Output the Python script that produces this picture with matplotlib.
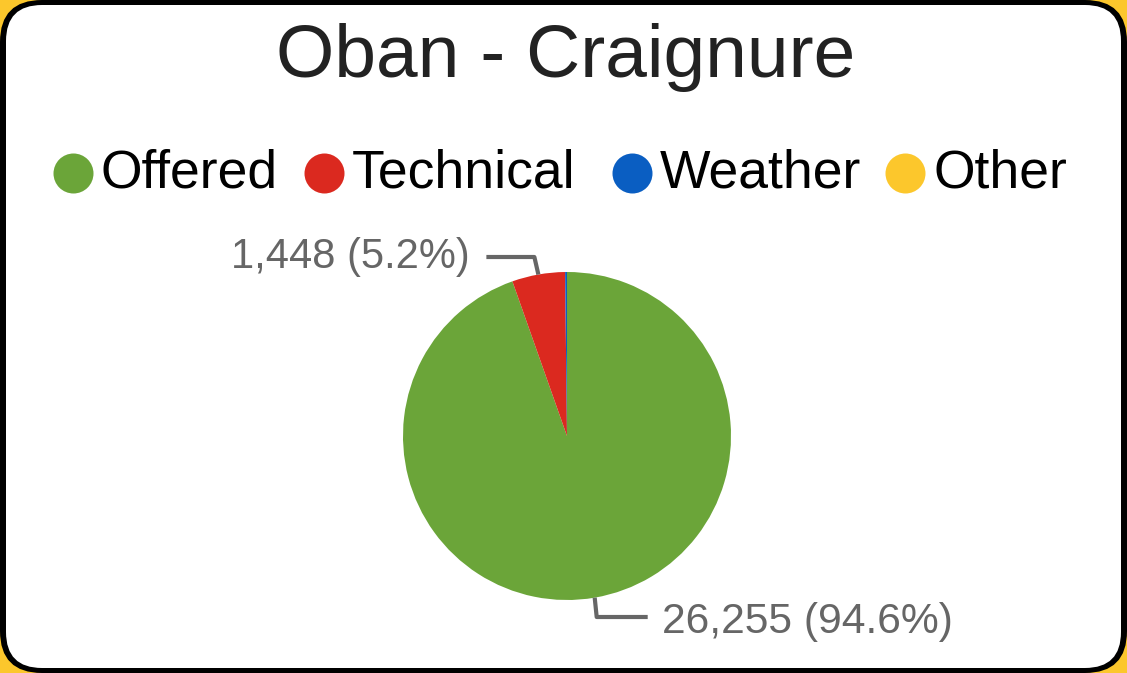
import numpy as np
import matplotlib
matplotlib.use("Agg")
import matplotlib.pyplot as plt
from matplotlib.patches import FancyBboxPatch

plt.rcParams['font.family'] = ['Liberation Sans', 'DejaVu Sans']

title = "Oban - Craignure"
categories = ["Offered", "Technical", "Weather", "Other"]
values = [26255, 1448, 51, 0]
colors = ["#6ba539", "#db291f", "#0a5ec2", "#fcc72c"]

W, H = 1127, 673
fig = plt.figure(figsize=(W / 100, H / 100), dpi=100)
fig.patch.set_facecolor("#fcc72c")

ax = fig.add_axes([0, 0, 1, 1])

# pie
cx, cy, r = 567, H - 436, 164
wedges, _ = ax.pie(values, colors=colors, startangle=90, counterclock=False,
                   center=(cx, cy), radius=r, wedgeprops=dict(linewidth=0), frame=False)
for w in wedges:
    w.set_zorder(2)

ax.set_xlim(0, W)
ax.set_ylim(0, H)
ax.set_aspect("equal")
ax.axis("off")

# card frame: black rounded border with white rounded panel
ax.add_patch(FancyBboxPatch((0, 0), W, H, boxstyle="round,pad=0,rounding_size=42",
                            fc="black", ec="none", zorder=0))
ax.add_patch(FancyBboxPatch((6, 5), W - 12, H - 10, boxstyle="round,pad=0,rounding_size=36",
                            fc="white", ec="none", zorder=1))

ax.text(W / 2 + 2, H - 77, title, ha="center", va="baseline", fontsize=54, color="#222222", zorder=3)

# legend
leg_x = [72.5, 324, 632, 905]
leg_y = H - 173
for x, c, lab in zip(leg_x, colors, categories):
    ax.scatter([x], [leg_y], s=28.8 ** 2, color=c, zorder=3, linewidths=0)
    ax.text(x + 28, H - 187, lab, ha="left", va="baseline", fontsize=38.5, color="black", zorder=3)

total = sum(values)
grey = "#666666"


def label_text(v):
    return f"{v:,} ({v / total * 100:.1f}%)"


def edge_point(w):
    mid = np.deg2rad((w.theta1 + w.theta2) / 2)
    return cx + r * np.cos(mid), cy + r * np.sin(mid)


# Technical label (upper left)
ex, ey = edge_point(wedges[1])
px, py = ex - 4, H - 257
ax.plot([ex, px, px - 48], [ey, py, py], color=grey, lw=3, solid_capstyle="butt", zorder=3)
ax.text(px - 65, H - 268, label_text(values[1]), ha="right", va="baseline", fontsize=30, color=grey, zorder=3)

# Offered label (lower right)
ex, ey = edge_point(wedges[0])
px, py = ex + 2, H - 617
ax.plot([ex, px, px + 51], [ey, py, py], color=grey, lw=3, solid_capstyle="butt", zorder=3)
ax.text(px + 65, H - 633, label_text(values[0]), ha="left", va="baseline", fontsize=30.7, color=grey, zorder=3)

fig.savefig("out.png", dpi=100, facecolor=fig.get_facecolor())
